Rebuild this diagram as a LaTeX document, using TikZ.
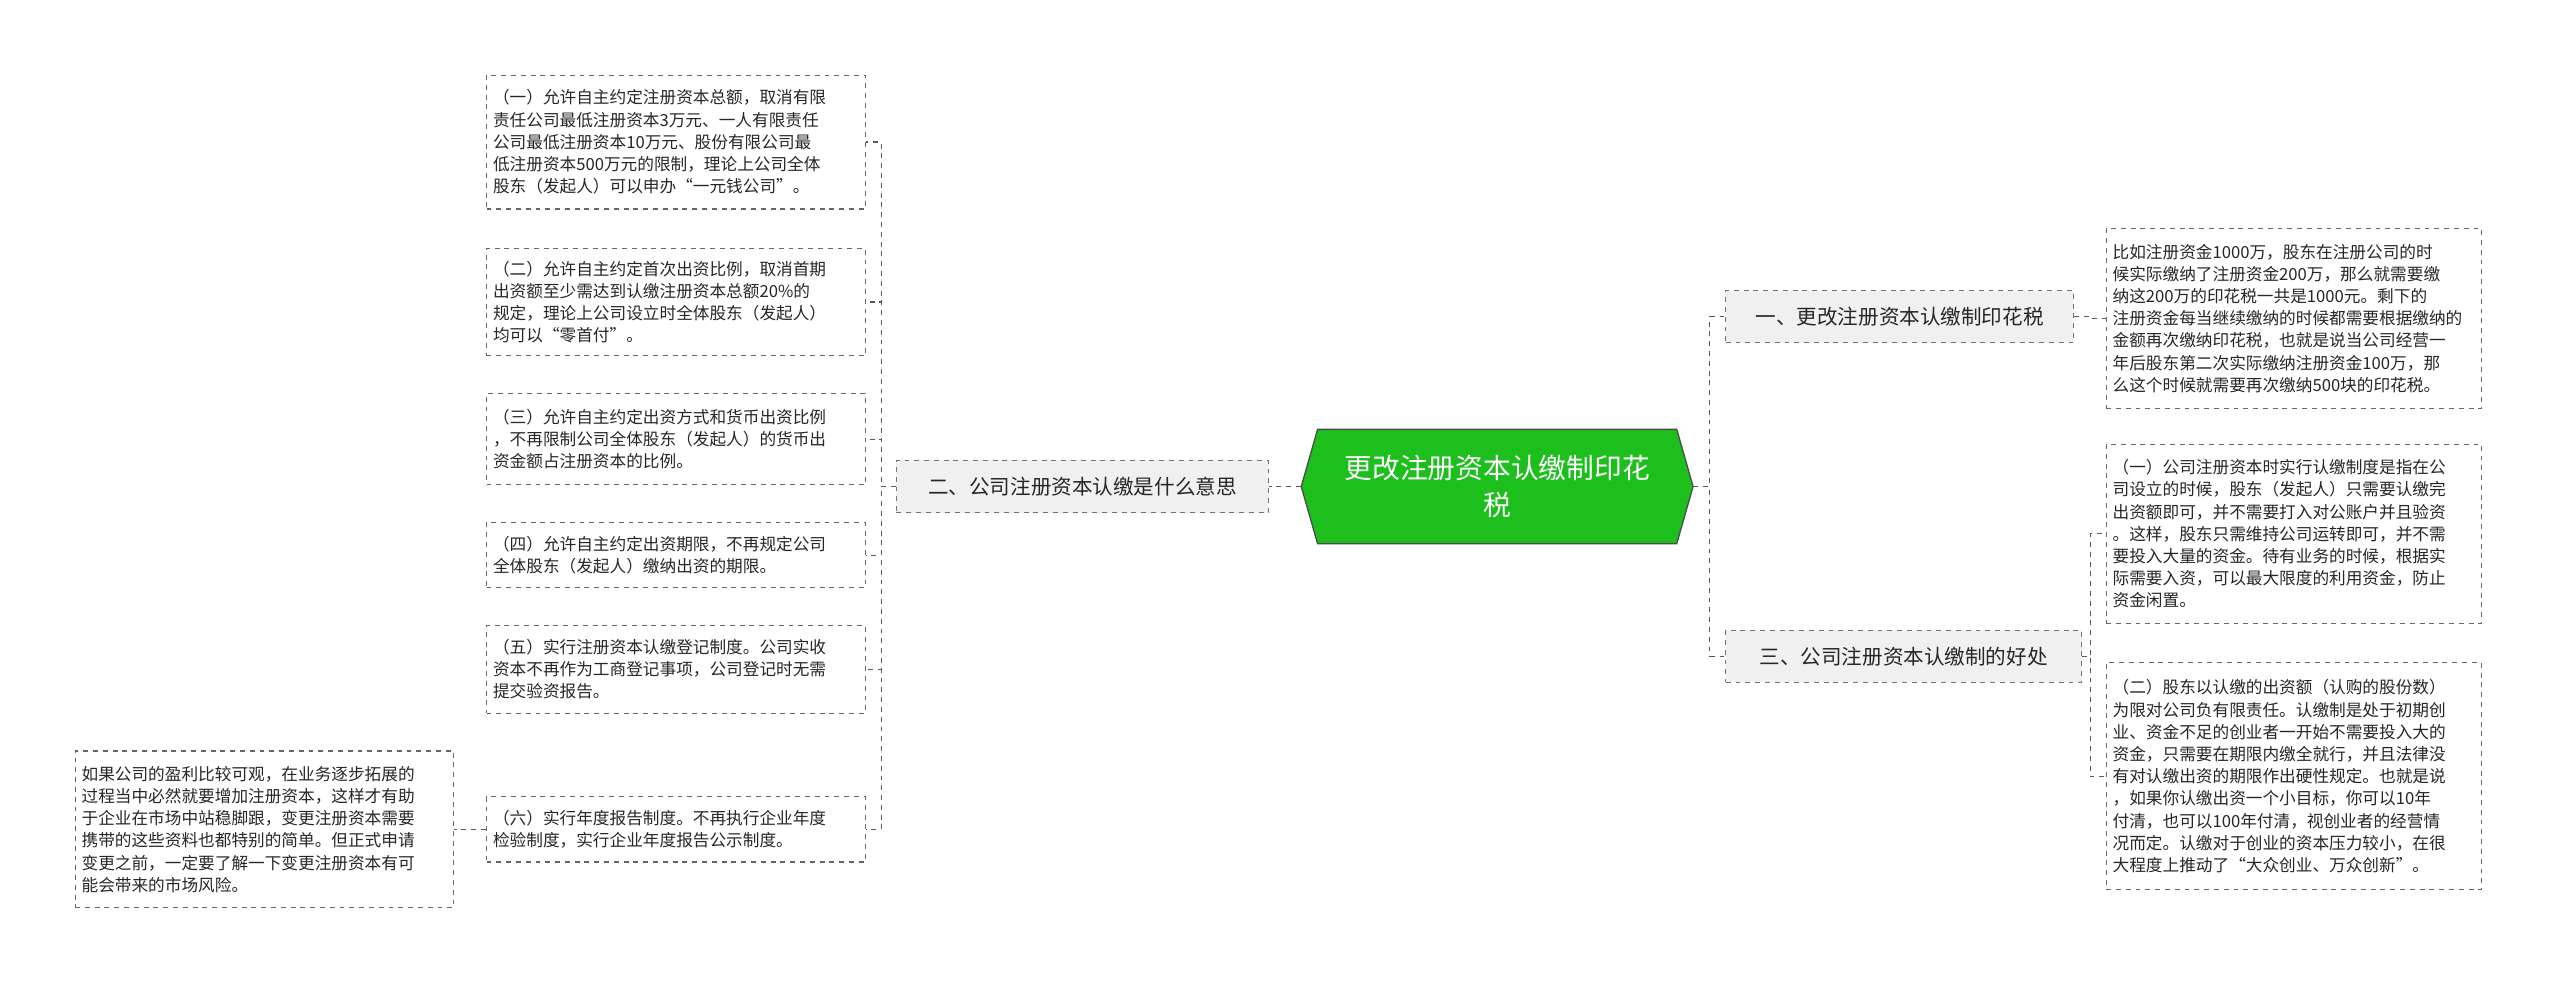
\documentclass[tikz,border=0pt]{standalone}
\usepackage{fontspec}
\newfontfamily\cjk{Noto Sans CJK SC}
\begin{document}
\begin{tikzpicture}[x=1pt,y=-1pt,
  conn/.style={draw=black!65,dashed,line width=0.7pt},
  leaf/.style={draw=black!60,dashed,line width=0.7pt,fill=white,align=left,inner sep=4pt,font=\cjk\fontsize{10.2}{13.6}\selectfont,text=black!85},
  branch/.style={draw=black!55,dashed,line width=0.7pt,fill=gray!12,inner sep=4pt,font=\cjk\fontsize{12.6}{15}\selectfont,text=black!85,minimum height=32pt}]
\useasboundingbox (0,0) rectangle (1568,604);
\fill[white] (0,0) rectangle (1568,604);
% center
\fill[fill={rgb,255:red,29;green,191;blue,29},draw=black!70,line width=0.8pt] (797,298)--(807,263)--(1027,263)--(1037,298)--(1027,333)--(807,333)--cycle;
\node[minimum width=240pt,minimum height=70pt,align=center,text=white,font=\cjk\fontsize{17}{23}\selectfont] (c) at (917,298) {更改注册资本认缴制印花\\税};
% branches
\node[branch,minimum width=213pt] (b1) at (1163.5,194) {一、更改注册资本认缴制印花税};
\node[branch,minimum width=218pt] (b3) at (1166,402) {三、公司注册资本认缴制的好处};
\node[branch,minimum width=228pt] (b2) at (663,298) {二、公司注册资本认缴是什么意思};
% right leaves
\node[leaf,text width=222pt,minimum height=110pt] (r1) at (1405,195) {比如注册资金1000万，股东在注册公司的时\\候实际缴纳了注册资金200万，那么就需要缴\\纳这200万的印花税一共是1000元。剩下的\\注册资金每当继续缴纳的时候都需要根据缴纳的\\金额再次缴纳印花税，也就是说当公司经营一\\年后股东第二次实际缴纳注册资金100万，那\\么这个时候就需要再次缴纳500块的印花税。};
\node[leaf,text width=222pt,minimum height=110pt] (r2) at (1405,327) {（一）公司注册资本时实行认缴制度是指在公\\司设立的时候，股东（发起人）只需要认缴完\\出资额即可，并不需要打入对公账户并且验资\\。这样，股东只需维持公司运转即可，并不需\\要投入大量的资金。待有业务的时候，根据实\\际需要入资，可以最大限度的利用资金，防止\\资金闲置。};
\node[leaf,text width=222pt,minimum height=139pt] (r3) at (1405,475.5) {（二）股东以认缴的出资额（认购的股份数）\\为限对公司负有限责任。认缴制是处于初期创\\业、资金不足的创业者一开始不需要投入大的\\资金，只需要在期限内缴全就行，并且法律没\\有对认缴出资的期限作出硬性规定。也就是说\\，如果你认缴出资一个小目标，你可以10年\\付清，也可以100年付清，视创业者的经营情\\况而定。认缴对于创业的资本压力较小，在很\\大程度上推动了“大众创业、万众创新”。};
% left leaves
\node[leaf,text width=224pt,minimum height=82pt] (l1) at (414,87) {（一）允许自主约定注册资本总额，取消有限\\责任公司最低注册资本3万元、一人有限责任\\公司最低注册资本10万元、股份有限公司最\\低注册资本500万元的限制，理论上公司全体\\股东（发起人）可以申办“一元钱公司”。};
\node[leaf,text width=224pt,minimum height=66pt] (l2) at (414,185) {（二）允许自主约定首次出资比例，取消首期\\出资额至少需达到认缴注册资本总额20\%的\\规定，理论上公司设立时全体股东（发起人）\\均可以“零首付”。};
\node[leaf,text width=224pt,minimum height=56pt] (l3) at (414,269) {（三）允许自主约定出资方式和货币出资比例\\，不再限制公司全体股东（发起人）的货币出\\资金额占注册资本的比例。};
\node[leaf,text width=224pt,minimum height=40pt] (l4) at (414,340) {（四）允许自主约定出资期限，不再规定公司\\全体股东（发起人）缴纳出资的期限。};
\node[leaf,text width=224pt,minimum height=54pt] (l5) at (414,410) {（五）实行注册资本认缴登记制度。公司实收\\资本不再作为工商登记事项，公司登记时无需\\提交验资报告。};
\node[leaf,text width=224pt,minimum height=40pt] (l6) at (414,508) {（六）实行年度报告制度。不再执行企业年度\\检验制度，实行企业年度报告公示制度。};
\node[leaf,text width=224pt,minimum height=96pt] (l7) at (162,508) {如果公司的盈利比较可观，在业务逐步拓展的\\过程当中必然就要增加注册资本，这样才有助\\于企业在市场中站稳脚跟，变更注册资本需要\\携带的这些资料也都特别的简单。但正式申请\\变更之前，一定要了解一下变更注册资本有可\\能会带来的市场风险。};
% connectors
\draw[conn] (c.east) -- ++(10,0) |- (b1.west);
\draw[conn] (c.east) -- ++(10,0) |- (b3.west);
\draw[conn] (c.west) -- (b2.east);
\draw[conn] (b1.east) -- ++(10,0) |- (r1.west);
\draw[conn] (b3.east) -- ++(5,0) |- (r2.west);
\draw[conn] (b3.east) -- ++(5,0) |- (r3.west);
\foreach \l in {l1,l2,l3,l4,l5,l6}
  \draw[conn] (b2.west) -- ++(-9,0) |- (\l.east);
\draw[conn] (l6.west) -- (l7.east);
\end{tikzpicture}
\end{document}
